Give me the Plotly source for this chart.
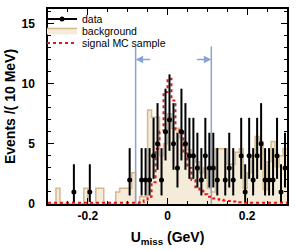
import plotly.graph_objects as go

# ---------------- data ----------------
bin_width = 0.01
x_min, x_max = -0.3, 0.3
y_max = 16.2

data_counts = [0, 0, 0, 0, 0, 0, 1, 0, 0, 0,
               1, 0, 0, 0, 0, 0, 0, 0, 0, 0,
               2, 0, 0, 2, 2, 2, 4, 5, 2, 6,
               7, 5, 3, 6, 5, 4, 4, 3, 2, 4,
               3, 3, 2, 0, 2, 3, 2, 0, 4, 1,
               4, 2, 4, 5, 2, 2, 2, 4, 1, 3]

background = [0, 0, 1.3, 0, 0, 0, 0, 0, 0, 1.3,
              0, 0, 1.3, 1.3, 0, 0, 0, 1.0, 1.3, 1.3,
              1.3, 2.6, 0, 0.6, 0.6, 7.8, 7.2, 7.2, 4.0, 5.0,
              7.5, 6.3, 6.3, 5.5, 5.0, 4.5, 4.0, 3.5, 2.6, 3.0,
              1.3, 1.0, 4.6, 4.6, 4.6, 3.3, 3.3, 4.3, 4.6, 1.3,
              2.6, 4.0, 5.6, 5.2, 1.2, 3.5, 5.2, 3.1, 4.0, 4.6]

signal_mc = [0.1, 0.1, 0.1, 0.1, 0.1, 0.1, 0.1, 0.1, 0.1, 0.1,
             0.1, 0.1, 0.1, 0.1, 0.1, 0.1, 0.1, 0.1, 0.1, 0.1,
             0.1, 0.1, 0.1, 0.15, 0.3, 0.6, 1.8, 4.6, 6.0, 9.3,
             10.4, 8.6, 6.2, 6.0, 4.2, 3.0, 2.0, 1.4, 1.1, 0.8,
             0.6, 0.45, 0.4, 0.35, 0.3, 0.25, 0.2, 0.2, 0.15, 0.1,
             0.1, 0.1, 0.1, 0.1, 0.1, 0.1, 0.1, 0.1, 0.1, 0.1]

# Poisson (asymmetric) error table
poisson_up = {1: 2.30, 2: 2.64, 3: 2.92, 4: 3.16, 5: 3.38, 6: 3.58, 7: 3.77}
poisson_dn = {1: 0.83, 2: 1.29, 3: 1.63, 4: 1.91, 5: 2.16, 6: 2.38, 7: 2.58}

cut_low, cut_high = -0.08, 0.11
cut_line_top = 13.1
arrow_level = 12
arrow_tail_low, arrow_tail_high = -0.04, 0.07

x_ticks = [-0.2, 0, 0.2]
x_tick_labels = ["-0.2", "0", "0.2"]
y_ticks = [0, 5, 10, 15]
y_tick_labels = ["0", "5", "10", "15"]

legend_names = ["data", "background", "signal MC sample"]

# ---------------- derived ----------------
n_bins = len(data_counts)
centers = [x_min + bin_width * (i + 0.5) for i in range(n_bins)]
edges = [x_min + bin_width * i for i in range(n_bins + 1)]

dx = [c for c, n in zip(centers, data_counts) if n > 0]
dy = [n for n in data_counts if n > 0]
eup = [poisson_up[n] for n in dy]
edn = [poisson_dn[n] for n in dy]

bg_color_line = "#d6b88c"
bg_color_fill = "#f4ecd9"
sig_color = "#e3161b"
cut_color = "#87a3d8"

fig = go.Figure()

fig.add_trace(go.Scatter(
    x=edges, y=background + [background[-1]], mode="lines",
    line=dict(shape="hv", color=bg_color_line, width=1.5),
    fill="tozeroy", fillcolor=bg_color_fill,
    name=legend_names[1], legend="legend2"))

for c in (cut_low, cut_high):
    fig.add_trace(go.Scatter(
        x=[c, c], y=[0, cut_line_top], mode="lines",
        line=dict(color=cut_color, width=1.5), showlegend=False, hoverinfo="skip"))

fig.add_trace(go.Scatter(
    x=edges, y=signal_mc + [signal_mc[-1]], mode="lines",
    line=dict(shape="hv", color=sig_color, width=2, dash="dot"),
    name=legend_names[2], legend="legend3"))

fig.add_trace(go.Scatter(
    x=dx, y=dy, mode="markers",
    marker=dict(color="black", size=5),
    error_y=dict(type="data", symmetric=False, array=eup, arrayminus=edn,
                 color="black", thickness=2, width=0),
    showlegend=False))

# legend proxy for data (line + dot)
fig.add_trace(go.Scatter(
    x=[None], y=[None], mode="lines+markers",
    line=dict(color="black", width=2), marker=dict(color="black", size=5),
    name=legend_names[0], legend="legend"))

for tip, tail in ((cut_low, arrow_tail_low), (cut_high, arrow_tail_high)):
    fig.add_annotation(
        x=tip, y=arrow_level, ax=tail, ay=arrow_level,
        xref="x", yref="y", axref="x", ayref="y",
        text="", showarrow=True, arrowhead=2, arrowsize=1,
        arrowwidth=1.5, arrowcolor=cut_color)

axis_common = dict(
    showline=True, linecolor="black", linewidth=1.5, mirror="ticks",
    ticks="inside", tickcolor="black", tickwidth=1.2, ticklen=6,
    showgrid=False, zeroline=False,
    tickfont=dict(family="Liberation Sans", size=12, color="black", weight="bold"),
)

fig.update_xaxes(
    range=[x_min, x_max], tickvals=x_ticks, ticktext=x_tick_labels,
    minor=dict(ticks="inside", ticklen=3, dtick=0.05, tickcolor="black"),
    title=dict(text="U<sub>miss</sub> (GeV)", standoff=10,
               font=dict(family="Liberation Sans", size=14, color="black", weight="bold")),
    **axis_common)

fig.update_yaxes(
    range=[0, y_max], tickvals=y_ticks, ticktext=y_tick_labels,
    minor=dict(ticks="inside", ticklen=3, dtick=1, tickcolor="black"),
    ticklabelstandoff=9,
    title=dict(text="Events /( 10 MeV)", standoff=3,
               font=dict(family="Liberation Sans", size=14, color="black", weight="bold")),
    **axis_common)

leg_font = dict(family="Liberation Sans", size=10.5, color="black")
leg_common = dict(x=-0.025, xanchor="left", yanchor="middle",
                  bgcolor="rgba(0,0,0,0)", borderwidth=0, font=leg_font, itemwidth=30)

fig.update_layout(
    width=296, height=250,
    margin=dict(l=48, r=9, t=5, b=46),
    paper_bgcolor="white", plot_bgcolor="white",
    showlegend=True,
    legend=dict(y=0.9485, **leg_common),
    legend2=dict(y=0.890, **leg_common),
    legend3=dict(y=0.826, **leg_common),
)

fig.write_html("out.html", config={"displayModeBar": False},
               post_script="document.body.style.margin='0px';")
